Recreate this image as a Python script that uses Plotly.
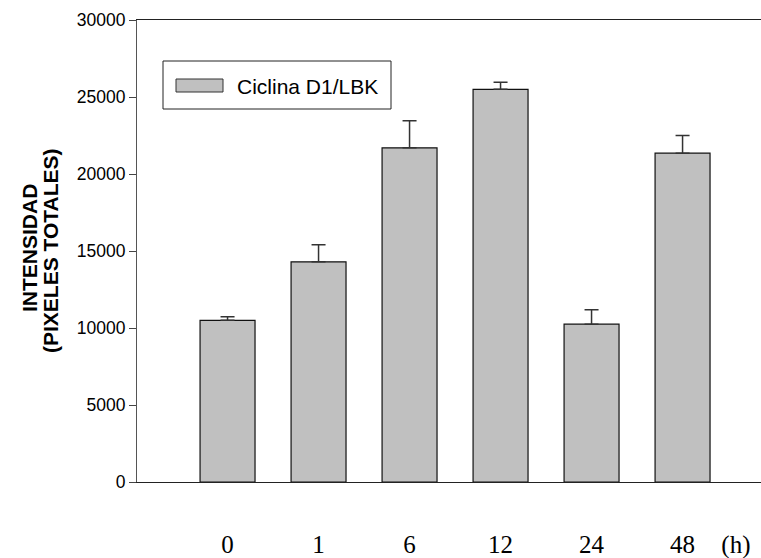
import plotly.graph_objects as go

# Time points (hours) and measured intensity (total pixels), mean and SEM
hours = ["0", "1", "6", "12", "24", "48"]
intensity = [10500, 14300, 21700, 25500, 10250, 21350]
sem = [230, 1100, 1750, 450, 930, 1150]
series_name = "Ciclina D1/LBK"
y_ticks = [0, 5000, 10000, 15000, 20000, 25000, 30000]
y_title_lines = ["INTENSIDAD", "(PIXELES TOTALES)"]

positions = list(range(len(hours)))
unit_pos = 5.586  # position of the "(h)" unit label after the last category

W, H = 761, 558
L, R, T, B = 137, 0, 20, 76
plot_w = W - L - R
plot_h = H - T - B


def px_x(p):
    return (p - L) / plot_w


def px_y(p):
    return (H - B - p) / plot_h


fig = go.Figure()
fig.add_trace(go.Bar(
    x=positions,
    y=intensity,
    width=0.604,
    marker=dict(color="#c0c0c0", line=dict(color="#111111", width=1.2)),
    error_y=dict(type="data", symmetric=False, array=sem,
                 arrayminus=[0] * len(sem),
                 color="#333333", thickness=1.5, width=7),
    name=series_name,
    showlegend=False,
))

arial = "Arial, Liberation Sans, Helvetica, sans-serif"
times = "Times New Roman, Liberation Serif, serif"

fig.update_layout(
    width=W, height=H,
    margin=dict(l=L, r=R, t=T, b=B, pad=0, autoexpand=False),
    paper_bgcolor="white", plot_bgcolor="white",
    xaxis=dict(
        range=[-0.995, 5.862],
        tickvals=positions + [unit_pos],
        ticktext=hours + ["(h)"],
        ticks="",
        showgrid=False, zeroline=False,
        showline=True, linecolor="#222222", linewidth=1, mirror=True,
        tickfont=dict(family=times, size=25, color="black"),
        ticklabelstandoff=40,
        automargin=False,
    ),
    yaxis=dict(
        range=[0, 30000],
        tickvals=y_ticks,
        ticktext=[str(v) for v in y_ticks],
        ticks="outside", ticklen=7, tickwidth=1, tickcolor="#444444",
        showgrid=False, zeroline=False,
        showline=True, linecolor="#555555", linewidth=1,
        tickfont=dict(family=arial, size=17.5, color="black"),
        automargin=False,
    ),
)

# Y axis title, two bold lines set close together
for text, xc, yc in [(y_title_lines[0], 29, 248), (y_title_lines[1], 50, 251)]:
    fig.add_annotation(
        text="<b>" + text + "</b>",
        xref="paper", yref="paper", x=px_x(xc), y=px_y(yc),
        xanchor="center", yanchor="middle", textangle=-90,
        showarrow=False, font=dict(family=arial, size=21, color="black"),
    )

# Legend box with a wide swatch
fig.add_shape(type="rect", xref="paper", yref="paper",
              x0=px_x(163), x1=px_x(391), y0=px_y(109), y1=px_y(61),
              line=dict(color="#222222", width=1), fillcolor="white", layer="above")
fig.add_shape(type="rect", xref="paper", yref="paper",
              x0=px_x(176), x1=px_x(223), y0=px_y(92), y1=px_y(79),
              line=dict(color="#333333", width=1), fillcolor="#c0c0c0", layer="above")
fig.add_annotation(
    text=series_name, xref="paper", yref="paper",
    x=px_x(235), y=px_y(86), xanchor="left", yanchor="middle",
    showarrow=False, font=dict(family=arial, size=21, color="black"),
)

fig.write_html("out.html")
